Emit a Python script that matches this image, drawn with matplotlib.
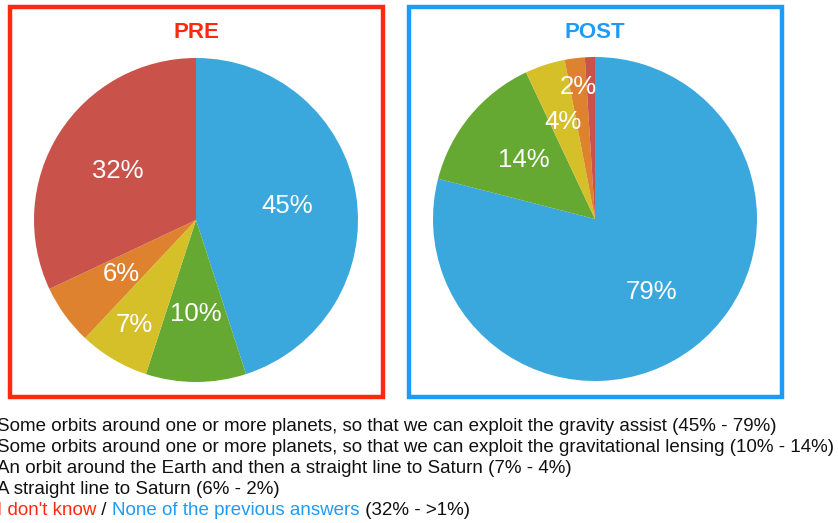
import numpy as np
import matplotlib
matplotlib.use("Agg")
import matplotlib.pyplot as plt
from matplotlib.patches import Rectangle

plt.rcParams['font.family'] = ['Liberation Sans', 'DejaVu Sans']

# ---------------- data ----------------
slice_names = ["gravity assist", "gravitational lensing", "orbit + straight line",
               "straight line", "don't know / none"]
pre_values = [45, 10, 7, 6, 32]
post_values = [79, 14, 4, 2, 1]
pre_labels = ["45%", "10%", "7%", "6%", "32%"]
post_labels = ["79%", "14%", "4%", "2%", ""]
panel_titles = ["PRE", "POST"]
legend_lines = [
    "Some orbits around one or more planets, so that we can exploit the gravity assist (45% - 79%)",
    "Some orbits around one or more planets, so that we can exploit the gravitational lensing (10% - 14%)",
    "An orbit around the Earth and then a straight line to Saturn (7% - 4%)",
    "A straight line to Saturn (6% - 2%)",
]
last_line_parts = ["I don't know", " / ", "None of the previous answers", " (32% - >1%)"]

# ---------------- style ----------------
slice_colors = ["#3aa8dc", "#65a832", "#d6c02a", "#df822f", "#c9524a"]
title_colors = ["#ff2a0e", "#1e9bf7"]
last_line_colors = ["#ff2a0e", "#111111", "#1e9bf7", "#111111"]
pre_dist = [0.57, 0.58, 0.75, 0.57, 0.57]
post_dist = [0.57, 0.57, 0.63, 0.82, 0.6]

W, H = 838, 523
fig = plt.figure(figsize=(W / 100, H / 100), dpi=100)
fig.patch.set_facecolor("white")

def px_axes(x0, y0, w, h):
    return fig.add_axes([x0 / W, 1 - (y0 + h) / H, w / W, h / H])

# frames
for (x0, col) in [(10, title_colors[0]), (409, title_colors[1])]:
    fig.patches.append(Rectangle((x0 / W, 1 - 397 / H), 373 / W, (397 - 7) / H,
                                 transform=fig.transFigure, fill=False,
                                 edgecolor=col, linewidth=3.2))

R = 162
centers = [(196, 220), (595, 219)]
for (cx, cy), vals, labs, dists, title, tcol in zip(
        centers, [pre_values, post_values], [pre_labels, post_labels],
        [pre_dist, post_dist], panel_titles, title_colors):
    ax = px_axes(cx - R, cy - R, 2 * R, 2 * R)
    wedges, _ = ax.pie(vals, colors=slice_colors, startangle=90, counterclock=False,
                       radius=1, wedgeprops=dict(linewidth=0))
    for w, lab, d in zip(wedges, labs, dists):
        if not lab:
            continue
        ang = np.deg2rad((w.theta1 + w.theta2) / 2)
        ax.text(d * np.cos(ang), d * np.sin(ang), lab, ha="center", va="center",
                color="white", fontsize=18.5)
    ax.set_xlim(-1, 1)
    ax.set_ylim(-1, 1)
    ax.set_aspect("equal")
    ax.axis("off")
    fig.text(cx / W, 1 - 32 / H, title, ha="center", va="center",
             color=tcol, fontsize=16, fontweight="bold")

# legend text
fs = 13.5
y_base = [431, 452, 473, 494, 515]
x_start = -3
for line, yb in zip(legend_lines, y_base[:4]):
    fig.text(x_start / W, 1 - yb / H, line, ha="left", va="baseline",
             color="#111111", fontsize=fs)

fig.canvas.draw()
renderer = fig.canvas.get_renderer()
xpos = x_start
for part, col in zip(last_line_parts, last_line_colors):
    t = fig.text(xpos / W, 1 - y_base[4] / H, part, ha="left", va="baseline",
                 color=col, fontsize=fs)
    bb = t.get_window_extent(renderer=renderer)
    xpos = bb.x1

fig.savefig("out.png", dpi=100)
